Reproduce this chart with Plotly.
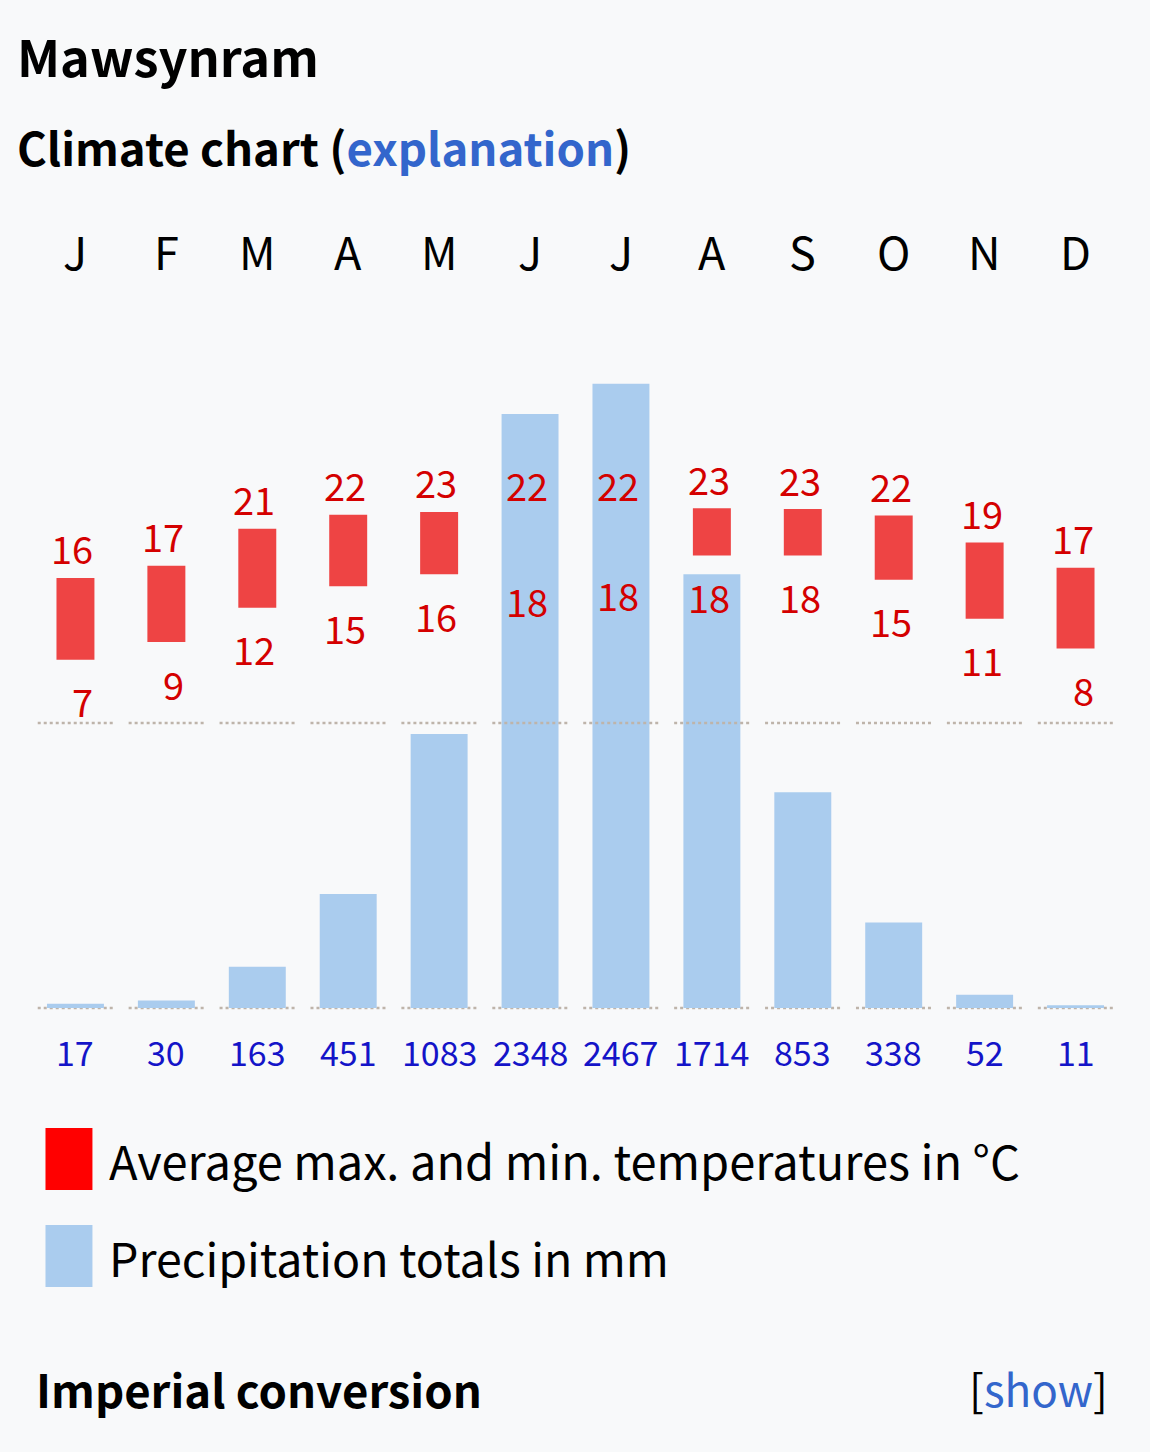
import plotly.graph_objects as go

# ---------------- data ----------------
months = ["J", "F", "M", "A", "M", "J", "J", "A", "S", "O", "N", "D"]
temp_max = [15.6, 16.9, 20.9, 22.4, 22.7, 22.4, 22.4, 23.1, 23.0, 22.3, 19.4, 16.7]
temp_min = [6.8, 8.7, 12.4, 14.7, 16.0, 17.6, 18.2, 18.0, 18.0, 15.4, 11.2, 8.0]
precip = [17, 30, 163, 451, 1083, 2348, 2467, 1714, 853, 338, 52, 11]

title_text = "Mawsynram"
subtitle_text = "Climate chart"
link_text = "explanation"
legend_temp = "Average max. and min. temperatures in °C"
legend_prec = "Precipitation totals in mm"
imperial_text = "Imperial conversion"
show_text = "show"

# ---------------- geometry (pixels) ----------------
W, H = 1150, 1452
L, R = 29.5, 28.5
T, B = 200, 352
PW = W - L - R
PH = H - T - B
TOP_PX, BOT_PX = T, H - B

ZERO_T_PX, T_SCALE = 723, 9.3     # px per degree
ZERO_P_PX, P_SCALE = 1008, 0.253  # px per mm

t_range = [-(BOT_PX - ZERO_T_PX) / T_SCALE, (ZERO_T_PX - TOP_PX) / T_SCALE]
p_range = [-(BOT_PX - ZERO_P_PX) / P_SCALE, (ZERO_P_PX - TOP_PX) / P_SCALE]


def px_x(px):
    return (px - L) / PW


def px_y(py):
    return (BOT_PX - py) / PH


FONT = "Noto Sans CJK KR, Malgun Gothic, sans-serif"
BG = "#f8f9fa"
RED_BAR = "rgb(238,68,68)"
BLUE_BAR = "rgb(170,204,238)"
RED_TXT = "#d40000"
BLUE_TXT = "#1414c8"
DOT = "rgb(190,180,170)"
LINK = "#3366cc"

x = list(range(12))

fig = go.Figure()

fig.add_trace(go.Bar(
    x=x, y=precip, yaxis="y2", width=57 / 91,
    marker=dict(color=BLUE_BAR, line=dict(width=0)),
    hoverinfo="skip", showlegend=False,
))
fig.add_trace(go.Bar(
    x=x, y=[a - b for a, b in zip(temp_max, temp_min)], base=temp_min,
    width=38 / 91,
    marker=dict(color=RED_BAR, line=dict(width=0)),
    hoverinfo="skip", showlegend=False,
))

annotations = []
shapes = []

# zero lines (per-month dotted segments)
for i in x:
    shapes.append(dict(type="line", xref="x", yref="y2", x0=i - 0.415, x1=i + 0.415,
                       y0=0, y1=0, line=dict(color=DOT, width=2.5, dash="dot"),
                       layer="below"))
    shapes.append(dict(type="line", xref="x", yref="y", x0=i - 0.415, x1=i + 0.415,
                       y0=0, y1=0, line=dict(color=DOT, width=2.5, dash="dot"),
                       layer="above"))

# month letters
for i, m in enumerate(months):
    annotations.append(dict(x=i, y=px_y(250), xref="x", yref="paper", text=m,
                            showarrow=False, xanchor="center", yanchor="middle",
                            font=dict(family=FONT, size=45, color="#000")))

# temperature labels
for i in x:
    annotations.append(dict(x=i, y=temp_max[i], xref="x", yref="y",
                            text=str(round(temp_max[i])), showarrow=False,
                            xanchor="right", xshift=20, yanchor="middle", yshift=30,
                            font=dict(family=FONT, size=38, color=RED_TXT)))
    annotations.append(dict(x=i, y=temp_min[i], xref="x", yref="y",
                            text=str(round(temp_min[i])), showarrow=False,
                            xanchor="right", xshift=20, yanchor="middle", yshift=-41,
                            font=dict(family=FONT, size=38, color=RED_TXT)))

# precipitation labels
for i in x:
    annotations.append(dict(x=i, y=px_y(1051), xref="x", yref="paper",
                            text=str(precip[i]), showarrow=False,
                            xanchor="center", yanchor="middle",
                            font=dict(family=FONT, size=34, color=BLUE_TXT)))

# titles
annotations.append(dict(x=px_x(14), y=px_y(55), xref="paper", yref="paper",
                        text="<b>" + title_text + "</b>", showarrow=False,
                        xanchor="left", yanchor="middle",
                        font=dict(family=FONT, size=50.5, color="#000")))
annotations.append(dict(x=px_x(14), y=px_y(146), xref="paper", yref="paper",
                        text="<b>" + subtitle_text + " (<span style='color:" + LINK + "'>"
                             + link_text + "</span>)</b>",
                        showarrow=False, xanchor="left", yanchor="middle",
                        font=dict(family=FONT, size=45.5, color="#000")))

# legend
shapes.append(dict(type="rect", xref="paper", yref="paper",
                   x0=px_x(45), x1=px_x(92), y0=px_y(1190), y1=px_y(1128),
                   fillcolor="#ff0000", line=dict(width=0)))
shapes.append(dict(type="rect", xref="paper", yref="paper",
                   x0=px_x(45), x1=px_x(92), y0=px_y(1287), y1=px_y(1225),
                   fillcolor=BLUE_BAR, line=dict(width=0)))
annotations.append(dict(x=px_x(107), y=px_y(1159), xref="paper", yref="paper",
                        text=legend_temp, showarrow=False, xanchor="left", yanchor="middle",
                        font=dict(family=FONT, size=47, color="#000")))
annotations.append(dict(x=px_x(107), y=px_y(1256), xref="paper", yref="paper",
                        text=legend_prec, showarrow=False, xanchor="left", yanchor="middle",
                        font=dict(family=FONT, size=46.5, color="#000")))

# imperial conversion
annotations.append(dict(x=px_x(34), y=px_y(1388), xref="paper", yref="paper",
                        text="<b>" + imperial_text + "</b>", showarrow=False,
                        xanchor="left", yanchor="middle",
                        font=dict(family=FONT, size=45.5, color="#000")))
annotations.append(dict(x=px_x(1110), y=px_y(1388), xref="paper", yref="paper",
                        text="[<span style='color:" + LINK + "'>" + show_text + "</span>]",
                        showarrow=False, xanchor="right", yanchor="middle",
                        font=dict(family=FONT, size=44, color="#000")))

fig.update_layout(
    width=W, height=H,
    margin=dict(l=L, r=R, t=T, b=B, pad=0),
    paper_bgcolor=BG, plot_bgcolor=BG,
    barmode="overlay",
    xaxis=dict(range=[-0.5, 11.5], visible=False, fixedrange=True),
    yaxis=dict(range=t_range, visible=False, fixedrange=True),
    yaxis2=dict(range=p_range, visible=False, overlaying="y", fixedrange=True),
    annotations=annotations,
    shapes=shapes,
    showlegend=False,
)

page_js = (
    "document.documentElement.style.margin='0';"
    "document.documentElement.style.background='" + BG + "';"
    "document.documentElement.style.overflow='hidden';"
    "document.body.style.margin='0';"
    "document.body.style.padding='0';"
    "document.body.style.background='" + BG + "';"
    "document.body.style.overflow='hidden';"
)

fig.write_html("out.html", config={"displayModeBar": False}, post_script=page_js)
